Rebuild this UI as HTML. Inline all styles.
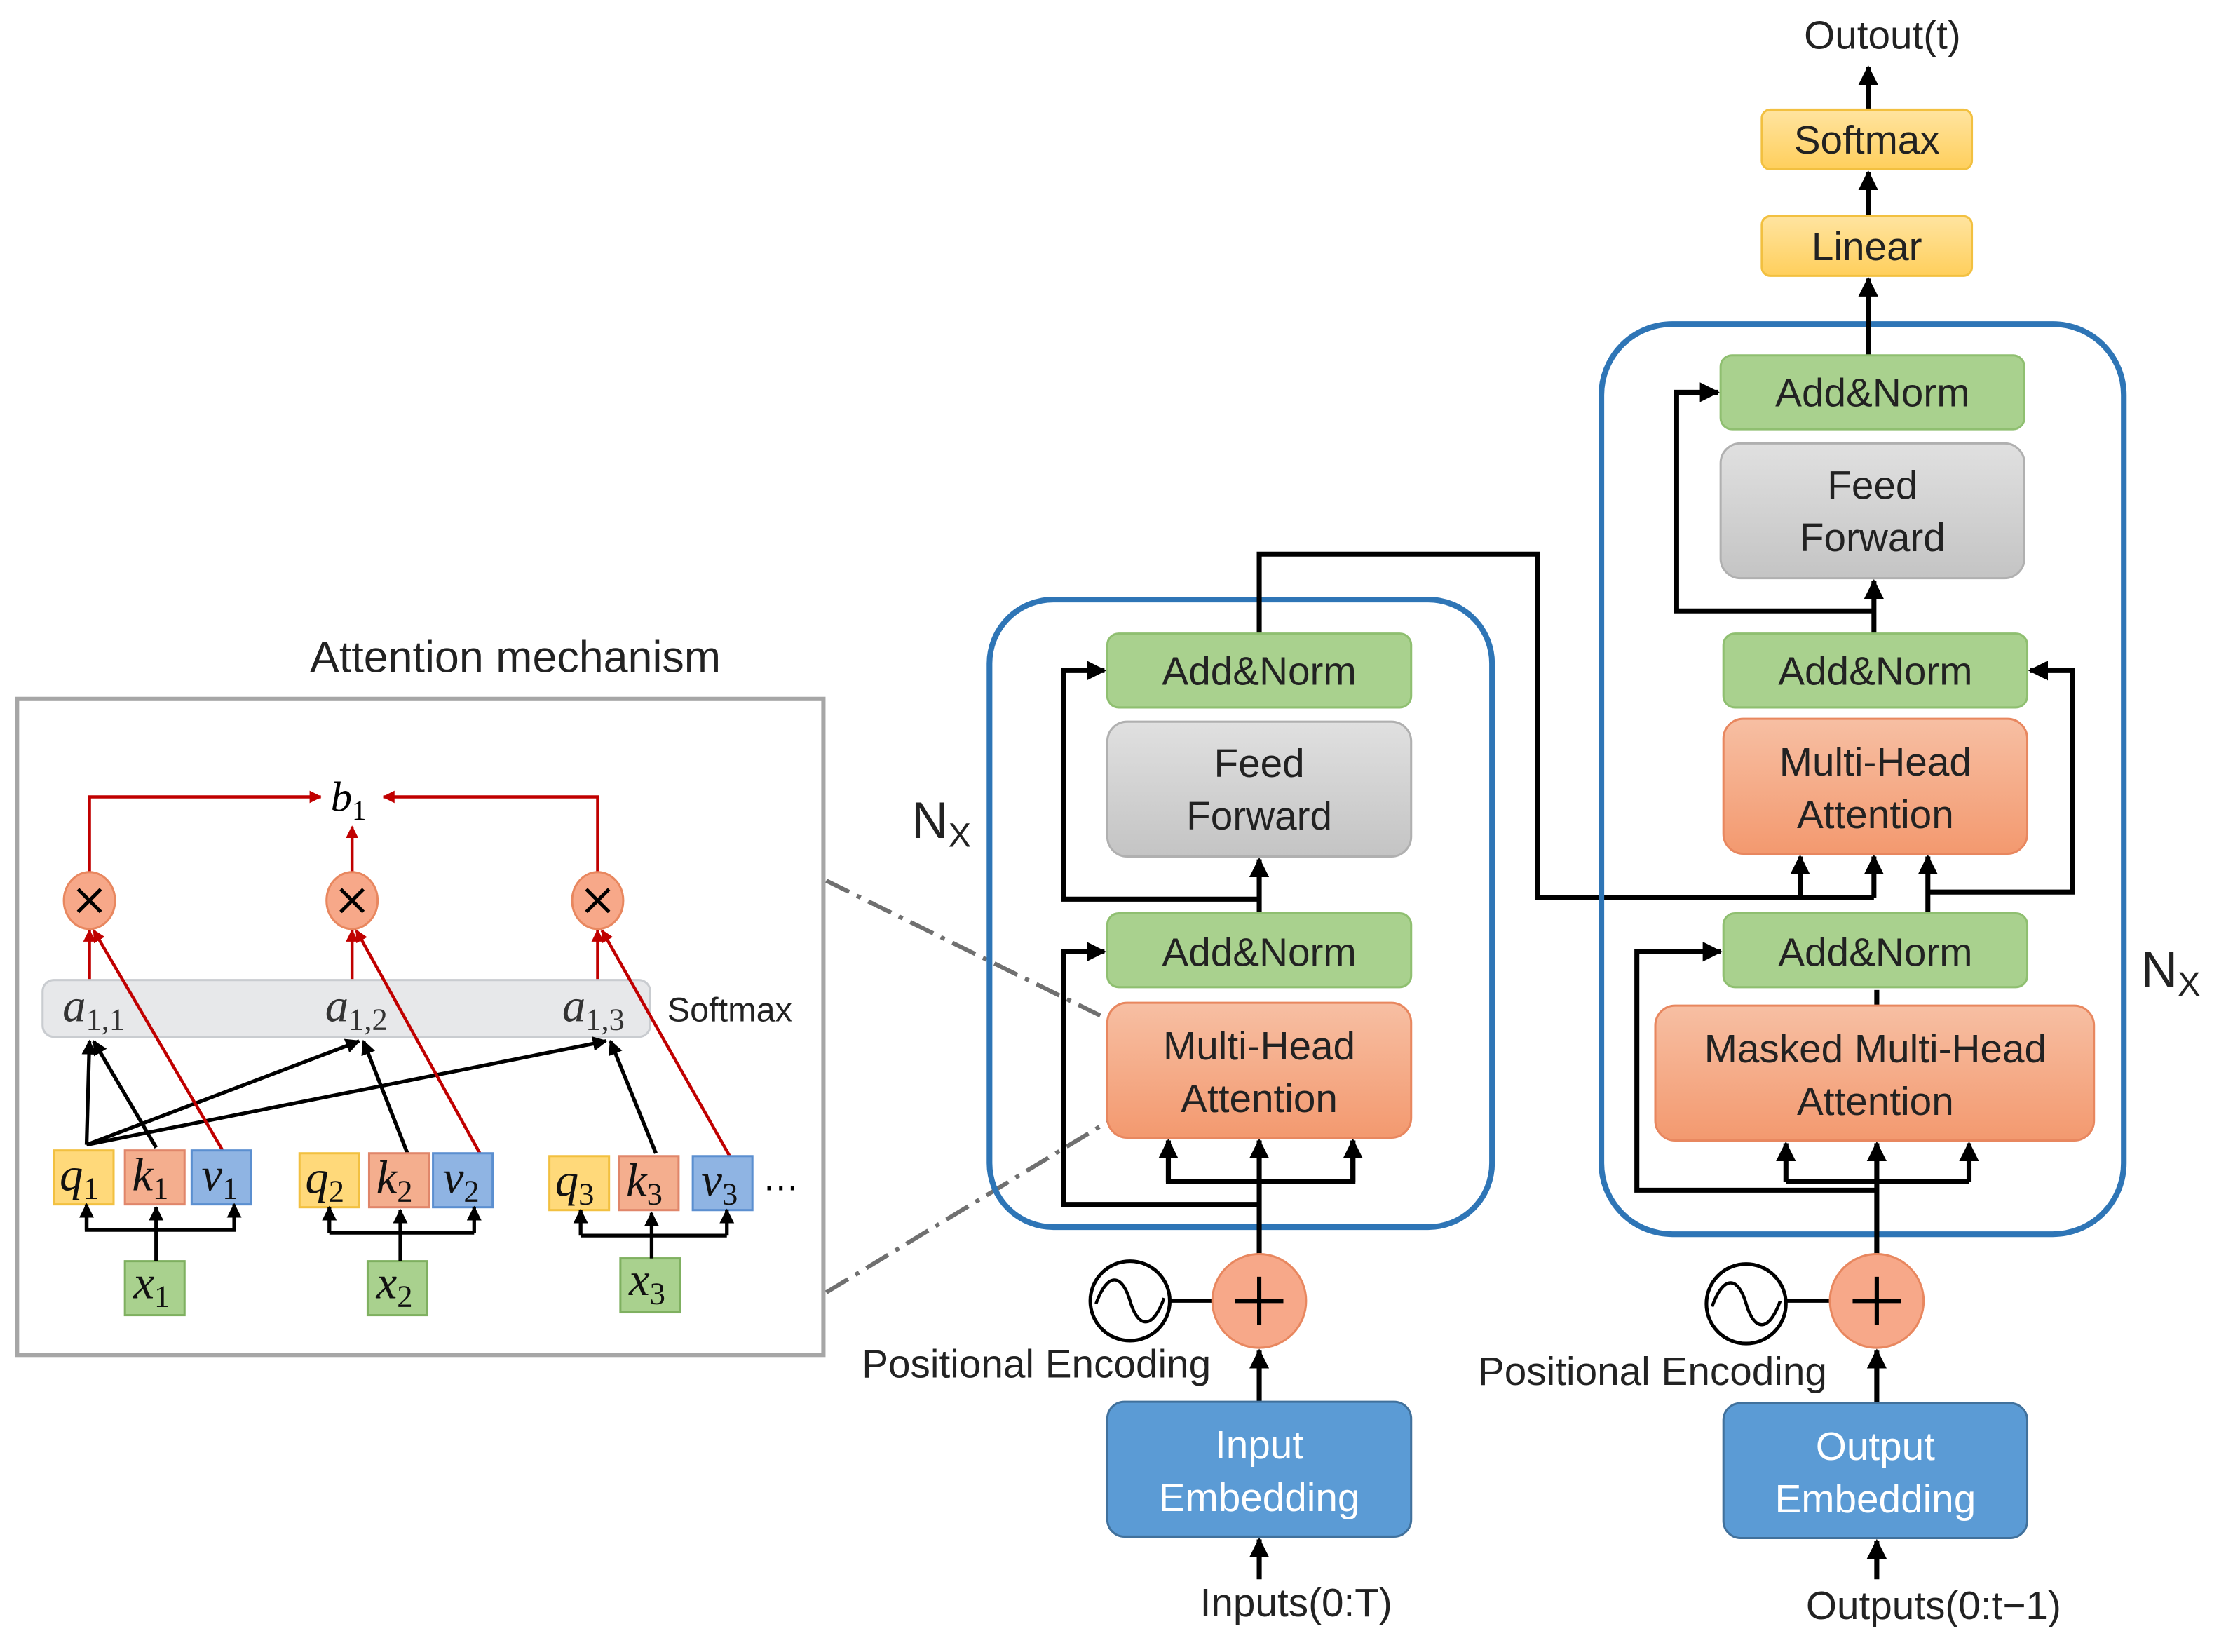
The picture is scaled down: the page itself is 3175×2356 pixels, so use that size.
<!DOCTYPE html>
<html><head><meta charset="utf-8"><style>html,body{margin:0;padding:0;background:#fff}svg{display:block}</style></head>
<body>
<svg width="3175" height="2356" viewBox="0 0 1568 1163" xmlns="http://www.w3.org/2000/svg" font-family="Liberation Sans, sans-serif">
<defs>
<marker id="ab" viewBox="0 0 10 10" refX="9" refY="5" markerWidth="4" markerHeight="4" orient="auto-start-reverse"><path d="M0,0L10,5L0,10z" fill="#000"/></marker>
<marker id="ar" viewBox="0 0 10 10" refX="9" refY="5" markerWidth="4" markerHeight="4" orient="auto-start-reverse"><path d="M0,0L10,5L0,10z" fill="#c00000"/></marker>
<linearGradient id="gs" x1="0" y1="0" x2="0" y2="1"><stop offset="0" stop-color="#f7bfa3"/><stop offset="1" stop-color="#f3996f"/></linearGradient>
<linearGradient id="gg" x1="0" y1="0" x2="0" y2="1"><stop offset="0" stop-color="#e0e0e0"/><stop offset="1" stop-color="#c4c4c4"/></linearGradient>
<linearGradient id="gy" x1="0" y1="0" x2="0" y2="1"><stop offset="0" stop-color="#ffe4a0"/><stop offset="1" stop-color="#ffcf5c"/></linearGradient>
</defs>

<!-- Left panel -->
<text x="363" y="473" font-size="31" text-anchor="middle" fill="#222">Attention mechanism</text>
<rect x="12" y="492" width="568" height="462" fill="#fff" stroke="#a6a6a6" stroke-width="3"/>
<g stroke="#c00000" stroke-width="2.2" fill="none">
<polyline points="63,615 63,561 226,561" marker-end="url(#ar)"/>
<polyline points="421,615 421,561 270,561" marker-end="url(#ar)"/>
<line x1="248" y1="615" x2="248" y2="582" marker-end="url(#ar)"/>
<line x1="63" y1="690" x2="63" y2="655" marker-end="url(#ar)"/>
<line x1="248" y1="690" x2="248" y2="655" marker-end="url(#ar)"/>
<line x1="421" y1="690" x2="421" y2="655" marker-end="url(#ar)"/>
</g>
<text x="233" y="571" font-family="Liberation Serif, serif" font-style="italic" font-size="30">b<tspan font-size="20" dy="6" font-style="normal">1</tspan></text>
<g fill="#f7a889" stroke="#e8875f" stroke-width="1.5">
<ellipse cx="63" cy="634" rx="18" ry="20"/><ellipse cx="248" cy="634" rx="18" ry="20"/><ellipse cx="421" cy="634" rx="18" ry="20"/>
</g>
<g stroke="#000" stroke-width="2.5"><path d="M55,626l16,16M71,626l-16,16M240,626l16,16M256,626l-16,16M413,626l16,16M429,626l-16,16"/></g>
<rect x="30" y="690" width="428" height="40" rx="8" fill="#e7e8ea" stroke="#c9ccd0" stroke-width="1.5"/>
<g font-family="Liberation Serif, serif" font-style="italic" font-size="33" fill="#333">
<text x="44" y="719">a<tspan font-size="22" dy="6" font-style="normal">1,1</tspan></text>
<text x="229" y="719">a<tspan font-size="22" dy="6" font-style="normal">1,2</tspan></text>
<text x="396" y="719">a<tspan font-size="22" dy="6" font-style="normal">1,3</tspan></text>
</g>
<text x="470" y="719" font-size="24" fill="#222">Softmax</text>
<g stroke="#000" stroke-width="2.6" fill="none">
<line x1="61" y1="806" x2="63" y2="733" marker-end="url(#ab)"/>
<line x1="61" y1="806" x2="253" y2="733" marker-end="url(#ab)"/>
<line x1="61" y1="806" x2="427" y2="733" marker-end="url(#ab)"/>
<line x1="110" y1="808" x2="66" y2="733" marker-end="url(#ab)"/>
<line x1="287" y1="812" x2="256" y2="733" marker-end="url(#ab)"/>
<line x1="462" y1="812" x2="430" y2="733" marker-end="url(#ab)"/>
</g>
<g stroke="#c00000" stroke-width="2.2" fill="none">
<line x1="158" y1="812" x2="66" y2="655" marker-end="url(#ar)"/>
<line x1="338" y1="812" x2="251" y2="655" marker-end="url(#ar)"/>
<line x1="514" y1="814" x2="424" y2="655" marker-end="url(#ar)"/>
</g>
<g stroke-width="1.5">
<rect x="38" y="810" width="42" height="38" fill="#ffd97a" stroke="#f2c040"/>
<rect x="88" y="810" width="42" height="38" fill="#f4ae8e" stroke="#e0866a"/>
<rect x="135" y="810" width="42" height="38" fill="#8fb4e3" stroke="#5b8fd0"/>
<rect x="211" y="812" width="42" height="38" fill="#ffd97a" stroke="#f2c040"/>
<rect x="260" y="812" width="42" height="38" fill="#f4ae8e" stroke="#e0866a"/>
<rect x="305" y="812" width="42" height="38" fill="#8fb4e3" stroke="#5b8fd0"/>
<rect x="387" y="814" width="42" height="38" fill="#ffd97a" stroke="#f2c040"/>
<rect x="436" y="814" width="42" height="38" fill="#f4ae8e" stroke="#e0866a"/>
<rect x="488" y="814" width="42" height="38" fill="#8fb4e3" stroke="#5b8fd0"/>
<rect x="88" y="888" width="42" height="38" fill="#a9d18e" stroke="#7fb060"/>
<rect x="259" y="888" width="42" height="38" fill="#a9d18e" stroke="#7fb060"/>
<rect x="437" y="886" width="42" height="38" fill="#a9d18e" stroke="#7fb060"/>
</g>
<g font-family="Liberation Serif, serif" font-style="italic" font-size="33" fill="#111">
<text x="42" y="838">q<tspan font-size="22" dy="6" font-style="normal">1</tspan></text>
<text x="93" y="838">k<tspan font-size="22" dy="6" font-style="normal">1</tspan></text>
<text x="142" y="838">v<tspan font-size="22" dy="6" font-style="normal">1</tspan></text>
<text x="215" y="840">q<tspan font-size="22" dy="6" font-style="normal">2</tspan></text>
<text x="265" y="840">k<tspan font-size="22" dy="6" font-style="normal">2</tspan></text>
<text x="312" y="840">v<tspan font-size="22" dy="6" font-style="normal">2</tspan></text>
<text x="391" y="842">q<tspan font-size="22" dy="6" font-style="normal">3</tspan></text>
<text x="441" y="842">k<tspan font-size="22" dy="6" font-style="normal">3</tspan></text>
<text x="494" y="842">v<tspan font-size="22" dy="6" font-style="normal">3</tspan></text>
<text x="94" y="914">x<tspan font-size="22" dy="6" font-style="normal">1</tspan></text>
<text x="265" y="914">x<tspan font-size="22" dy="6" font-style="normal">2</tspan></text>
<text x="443" y="912">x<tspan font-size="22" dy="6" font-style="normal">3</tspan></text>
</g>
<text x="537" y="838" font-size="26">…</text>
<g stroke="#000" stroke-width="2.6" fill="none">
<line x1="110" y1="888" x2="110" y2="850" marker-end="url(#ab)"/>
<polyline points="61,850 61,866 165,866 165,850"/>
<line x1="61" y1="866" x2="61" y2="848" marker-end="url(#ab)"/><line x1="165" y1="866" x2="165" y2="848" marker-end="url(#ab)"/>
<line x1="282" y1="888" x2="282" y2="852" marker-end="url(#ab)"/>
<polyline points="232,868 334,868"/>
<line x1="232" y1="868" x2="232" y2="850" marker-end="url(#ab)"/><line x1="334" y1="868" x2="334" y2="850" marker-end="url(#ab)"/>
<line x1="459" y1="886" x2="459" y2="854" marker-end="url(#ab)"/>
<polyline points="409,870 512,870"/>
<line x1="409" y1="870" x2="409" y2="852" marker-end="url(#ab)"/><line x1="512" y1="870" x2="512" y2="852" marker-end="url(#ab)"/>
</g>
<g stroke="#707070" stroke-width="3" stroke-dasharray="18,6,3,6">
<line x1="582" y1="620" x2="775" y2="715"/><line x1="582" y1="910" x2="780" y2="790"/>
</g>

<!-- Encoder -->
<rect x="697" y="422" width="354" height="442" rx="45" fill="none" stroke="#2e75b6" stroke-width="4"/>
<g stroke="#000" stroke-width="3.5" fill="none">
<polyline points="887,446 887,390 1083,390 1083,632 1320,632"/>
<line x1="1268" y1="632" x2="1268" y2="603" marker-end="url(#ab)"/>
<line x1="1320" y1="632" x2="1320" y2="603" marker-end="url(#ab)"/>
<line x1="887" y1="883" x2="887" y2="803" marker-end="url(#ab)"/>
<polyline points="823,803 823,832 953,832 953,803"/>
<line x1="823" y1="832" x2="823" y2="803" marker-end="url(#ab)"/><line x1="953" y1="832" x2="953" y2="803" marker-end="url(#ab)"/>
<polyline points="887,848 749,848 749,670 778,670" marker-end="url(#ab)"/>
<line x1="887" y1="643" x2="887" y2="605" marker-end="url(#ab)"/>
<polyline points="887,633 749,633 749,472 778,472" marker-end="url(#ab)"/>
<line x1="887" y1="987" x2="887" y2="951" marker-end="url(#ab)"/>
<line x1="887" y1="1112" x2="887" y2="1084" marker-end="url(#ab)"/>
<line x1="824" y1="916" x2="854" y2="916" stroke-width="2.5"/>
</g>
<rect x="780" y="446" width="214" height="52" rx="8" fill="#a9d18e" stroke="#8fbf70" stroke-width="1.5"/>
<rect x="780" y="508" width="214" height="95" rx="14" fill="url(#gg)" stroke="#b0b0b0" stroke-width="1.5"/>
<rect x="780" y="643" width="214" height="52" rx="8" fill="#a9d18e" stroke="#8fbf70" stroke-width="1.5"/>
<rect x="780" y="706" width="214" height="95" rx="14" fill="url(#gs)" stroke="#e8875f" stroke-width="1.5"/>
<rect x="780" y="987" width="214" height="95" rx="12" fill="#5b9bd5" stroke="#41719c" stroke-width="1.5"/>
<circle cx="887" cy="916" r="33" fill="#f7a889" stroke="#e8875f" stroke-width="1.5"/>
<path d="M870,916h34M887,899v34" stroke="#000" stroke-width="3"/>
<circle cx="796" cy="916" r="28" fill="#fff" stroke="#000" stroke-width="2.5"/>
<path d="M772,918c8,-22 18,-22 24,-2s16,20 24,-2" fill="none" stroke="#000" stroke-width="2.2"/>
<g font-size="28" fill="#222" text-anchor="middle">
<text x="887" y="482">Add&amp;Norm</text>
<text x="887" y="547">Feed</text><text x="887" y="584">Forward</text>
<text x="887" y="680">Add&amp;Norm</text>
<text x="887" y="746">Multi-Head</text><text x="887" y="783">Attention</text>
<text x="887" y="1027" fill="#fff">Input</text><text x="887" y="1064" fill="#fff">Embedding</text>
<text x="730" y="970">Positional Encoding</text>
<text x="913" y="1138">Inputs(0:T)</text>
</g>
<text x="642" y="590" font-size="36" fill="#222">N<tspan font-size="24" dy="6">X</tspan></text>

<!-- Decoder -->
<rect x="1128" y="228" width="368" height="641" rx="50" fill="none" stroke="#2e75b6" stroke-width="4"/>
<g stroke="#000" stroke-width="3.5" fill="none">
<line x1="1358" y1="643" x2="1358" y2="603" marker-end="url(#ab)"/>
<polyline points="1358,628 1460,628 1460,472 1430,472" marker-end="url(#ab)"/>
<line x1="1322" y1="883" x2="1322" y2="805" marker-end="url(#ab)"/>
<polyline points="1258,832 1387,832"/>
<line x1="1258" y1="832" x2="1258" y2="805" marker-end="url(#ab)"/><line x1="1387" y1="832" x2="1387" y2="805" marker-end="url(#ab)"/>
<polyline points="1322,838 1153,838 1153,670 1212,670" marker-end="url(#ab)"/>
<line x1="1322" y1="708" x2="1322" y2="697"/>
<line x1="1320" y1="446" x2="1320" y2="409" marker-end="url(#ab)"/>
<polyline points="1320,430 1181,430 1181,276 1210,276" marker-end="url(#ab)"/>
<line x1="1316" y1="250" x2="1316" y2="196" marker-end="url(#ab)"/>
<line x1="1316" y1="152" x2="1316" y2="121" marker-end="url(#ab)"/>
<line x1="1316" y1="77" x2="1316" y2="47" marker-end="url(#ab)"/>
<line x1="1322" y1="988" x2="1322" y2="951" marker-end="url(#ab)"/>
<line x1="1322" y1="1112" x2="1322" y2="1085" marker-end="url(#ab)"/>
<line x1="1258" y1="916" x2="1289" y2="916" stroke-width="2.5"/>
</g>
<rect x="1212" y="250" width="214" height="52" rx="8" fill="#a9d18e" stroke="#8fbf70" stroke-width="1.5"/>
<rect x="1212" y="312" width="214" height="95" rx="14" fill="url(#gg)" stroke="#b0b0b0" stroke-width="1.5"/>
<rect x="1214" y="446" width="214" height="52" rx="8" fill="#a9d18e" stroke="#8fbf70" stroke-width="1.5"/>
<rect x="1214" y="506" width="214" height="95" rx="14" fill="url(#gs)" stroke="#e8875f" stroke-width="1.5"/>
<rect x="1214" y="643" width="214" height="52" rx="8" fill="#a9d18e" stroke="#8fbf70" stroke-width="1.5"/>
<rect x="1166" y="708" width="309" height="95" rx="14" fill="url(#gs)" stroke="#e8875f" stroke-width="1.5"/>
<rect x="1214" y="988" width="214" height="95" rx="12" fill="#5b9bd5" stroke="#41719c" stroke-width="1.5"/>
<rect x="1241" y="152" width="148" height="42" rx="6" fill="url(#gy)" stroke="#f2c040" stroke-width="1.5"/>
<rect x="1241" y="77" width="148" height="42" rx="6" fill="url(#gy)" stroke="#f2c040" stroke-width="1.5"/>
<circle cx="1322" cy="916" r="33" fill="#f7a889" stroke="#e8875f" stroke-width="1.5"/>
<path d="M1305,916h34M1322,899v34" stroke="#000" stroke-width="3"/>
<circle cx="1230" cy="918" r="28" fill="#fff" stroke="#000" stroke-width="2.5"/>
<path d="M1206,920c8,-22 18,-22 24,-2s16,20 24,-2" fill="none" stroke="#000" stroke-width="2.2"/>
<g font-size="28" fill="#222" text-anchor="middle">
<text x="1319" y="286">Add&amp;Norm</text>
<text x="1319" y="351">Feed</text><text x="1319" y="388">Forward</text>
<text x="1321" y="482">Add&amp;Norm</text>
<text x="1321" y="546">Multi-Head</text><text x="1321" y="583">Attention</text>
<text x="1321" y="680">Add&amp;Norm</text>
<text x="1321" y="748">Masked Multi-Head</text><text x="1321" y="785">Attention</text>
<text x="1321" y="1028" fill="#fff">Output</text><text x="1321" y="1065" fill="#fff">Embedding</text>
<text x="1315" y="183">Linear</text>
<text x="1315" y="108">Softmax</text>
<text x="1326" y="34">Outout(t)</text>
<text x="1164" y="975">Positional Encoding</text>
<text x="1362" y="1140">Outputs(0:t−1)</text>
</g>
<text x="1508" y="695" font-size="36" fill="#222">N<tspan font-size="24" dy="6">X</tspan></text>
</svg>
</body></html>
